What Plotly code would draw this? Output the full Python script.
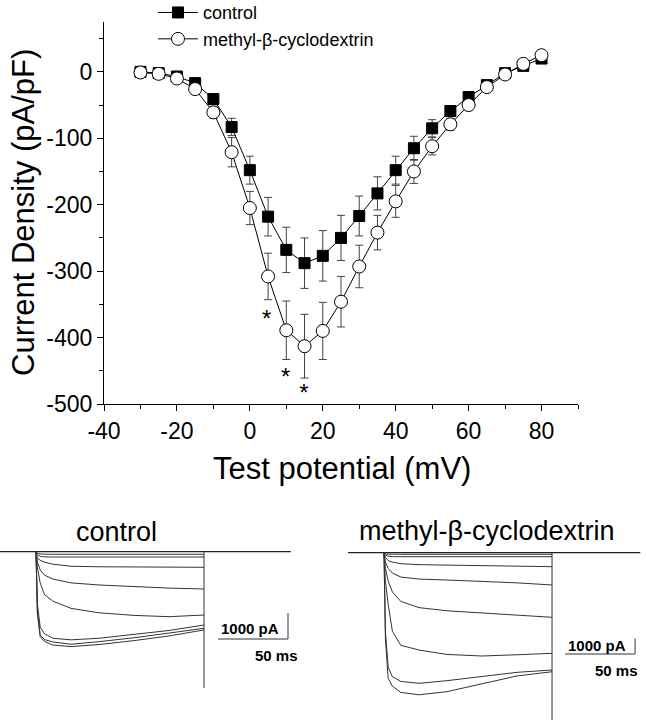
import plotly.graph_objects as go

W, H = 646, 720
FONT = "Liberation Sans, Arial, sans-serif"

# ---- I-V curve data (pA/pF) ----
voltage = list(range(-30, 81, 5))
control_mean = [0, -2, -7, -17, -41, -83, -148, -218, -268, -288, -277, -250,
                -217, -183, -148, -115, -85, -59, -38, -20, -2, 9, 20]
control_sem = [3, 3, 4, 5, 7, 13, 21, 29, 34, 38, 38, 34,
               30, 25, 21, 18, 13, 8, 6, 5, 4, 4, 4]
mbcd_mean = [-1, -3, -10, -26, -61, -121, -205, -308, -389, -413, -390, -346,
             -293, -242, -195, -150, -112, -79, -50, -23, -4, 12, 25]
mbcd_sem = [4, 4, 4, 6, 9, 22, 25, 35, 44, 48, 43, 38,
            32, 26, 24, 18, 13, 9, 6, 5, 4, 4, 5]

# tick labels (hyphen minus, as in the original)
x_ticks = [-40, -20, 0, 20, 40, 60, 80]
y_ticks = [-500, -400, -300, -200, -100, 0]

# significance marks
star_x = [4.6, 9.8, 14.8]
star_y = [-375, -463, -486]

# ---- current traces (ms, pA) ----
step_t = [0, 1, 3, 6, 12, 25, 45, 70, 95, 120]
control_traces = [
    [0, -60, -90, -100, -100, -100, -100, -100, -100, -100],
    [0, -120, -180, -200, -205, -205, -205, -205, -205, -205],
    [0, -250, -330, -400, -480, -560, -580, -590, -595, -600],
    [0, -400, -700, -900, -1050, -1200, -1280, -1345, -1400, -1435],
    [0, -600, -1200, -1650, -1900, -2180, -2350, -2450, -2500, -2435],
    [0, -2000, -2900, -3150, -3330, -3390, -3330, -3180, -3030, -2820],
    [0, -2300, -3200, -3380, -3470, -3560, -3460, -3310, -3130, -2945],
    [0, -2400, -3270, -3450, -3590, -3650, -3570, -3420, -3240, -3010],
]
mbcd_traces = [
    [0, -60, -90, -100, -100, -100, -100, -100, -100, -100],
    [0, -150, -220, -250, -255, -255, -255, -255, -255, -255],
    [0, -300, -500, -600, -700, -760, -790, -830, -860, -890],
    [0, -600, -1000, -1300, -1550, -1680, -1740, -1820, -1920, -2055],
    [0, -1000, -1800, -2500, -3100, -3500, -3700, -3850, -3980, -4115],
    [0, -1800, -3300, -5000, -5900, -6200, -6480, -6580, -6500, -6410],
    [0, -5000, -7300, -7900, -8200, -8320, -8150, -7900, -7620, -7470],
    [0, -5500, -8000, -8500, -8900, -9050, -8850, -8350, -7850, -7580],
]
control_tail = -5240
mbcd_tail = -10656
bar_ms, bar_pA = 50, 1000

fig = go.Figure()

# I-V curves
fig.add_trace(go.Scatter(
    x=voltage, y=control_mean, name="control", mode="lines+markers",
    error_y=dict(type="data", array=control_sem, color="#444", thickness=1, width=4),
    line=dict(color="black", width=1),
    marker=dict(symbol="square", size=11, color="black", line=dict(color="black", width=1))))
fig.add_trace(go.Scatter(
    x=voltage, y=mbcd_mean, name="methyl-β-cyclodextrin", mode="lines+markers",
    error_y=dict(type="data", array=mbcd_sem, color="#444", thickness=1, width=4),
    line=dict(color="black", width=1),
    marker=dict(symbol="circle", size=13, color="white", line=dict(color="black", width=1))))
fig.add_trace(go.Scatter(
    x=star_x, y=star_y, mode="text", text=["*"] * len(star_x), showlegend=False,
    textfont=dict(family=FONT, size=24, color="black"), hoverinfo="skip"))

# raw current panels
def add_panel(traces, tail, xa, ya, t_start, t_end, bar_x, bar_y):
    fig.add_trace(go.Scatter(x=[t_start, t_end], y=[0, 0], mode="lines",
                             line=dict(color="#222", width=1.2), showlegend=False,
                             xaxis=xa, yaxis=ya))
    for tr in traces:
        fig.add_trace(go.Scatter(x=step_t, y=tr, mode="lines",
                                 line=dict(color="#333", width=1), showlegend=False,
                                 xaxis=xa, yaxis=ya))
    fig.add_trace(go.Scatter(x=[step_t[-1], step_t[-1]], y=[0, tail], mode="lines",
                             line=dict(color="#333", width=1), showlegend=False,
                             xaxis=xa, yaxis=ya))
    fig.add_trace(go.Scatter(x=[bar_x, bar_x + bar_ms, bar_x + bar_ms],
                             y=[bar_y, bar_y, bar_y + bar_pA], mode="lines",
                             line=dict(color="#333", width=1), showlegend=False,
                             xaxis=xa, yaxis=ya))

add_panel(control_traces, control_tail, "x2", "y2", -25.7, 182, 130, -3358)
add_panel(mbcd_traces, mbcd_tail, "x3", "y3", -25.7, 183, 129.3, -6452)

axis_font = dict(family=FONT, size=23, color="black")
common = dict(showline=True, linecolor="black", linewidth=1, showgrid=False,
              zeroline=False, ticks="outside", ticklen=6, tickcolor="black",
              tickfont=axis_font, automargin=False)
hidden = dict(visible=False, showgrid=False, zeroline=False)

fig.update_layout(
    width=W, height=H, margin=dict(l=0, r=0, t=0, b=0, autoexpand=False),
    paper_bgcolor="white", plot_bgcolor="white",
    font=dict(family=FONT, color="black"),
    xaxis=dict(domain=[104 / W, 578 / W], range=[-40, 90], anchor="y",
               tickvals=x_ticks, ticktext=[str(v) for v in x_ticks],
               minor=dict(dtick=10, tick0=-40, ticks="outside", ticklen=4, tickcolor="black"),
               **common),
    yaxis=dict(domain=[1 - 404 / H, 1 - 22 / H], range=[-500, 75], anchor="x",
               tickvals=y_ticks, ticktext=[str(v) for v in y_ticks],
               minor=dict(dtick=50, tick0=-500, ticks="outside", ticklen=4, tickcolor="black"),
               **common),
    xaxis2=dict(domain=[0, 300 / W], range=[-25.71, 188.57], anchor="y2", **hidden),
    yaxis2=dict(domain=[0, 220 / H], range=[-6473, 1988], anchor="x2", **hidden),
    xaxis3=dict(domain=[320 / W, 1], range=[-45.7, 187.1], anchor="y3", **hidden),
    yaxis3=dict(domain=[0, 220 / H], range=[-10656, 3357], anchor="x3", **hidden),
    legend=dict(x=153 / W, y=1.008, xanchor="left", yanchor="top",
                font=dict(family=FONT, size=18, color="black"),
                bgcolor="rgba(0,0,0,0)", tracegroupgap=0, itemwidth=40),
    showlegend=True,
)

def note(text, x, y, size, xref="paper", yref="paper", angle=0, bold=False):
    return dict(text=f"<b>{text}</b>" if bold else text, x=x, y=y, xref=xref, yref=yref,
                xanchor="center", yanchor="middle", textangle=angle,
                showarrow=False, font=dict(family=FONT, size=size, color="black"))

annotations = [
    note("Current Density (pA/pF)", 23 / W, 1 - 213 / H, 31, angle=-90),
    note("Test potential (mV)", 342 / W, 1 - 468 / H, 31),
    note("control", 116 / W, 1 - 532 / H, 27),
    note("methyl-β-cyclodextrin", 487 / W, 1 - 531 / H, 27),
    note("1000 pA", 152.9, -2935, 15, "x2", "y2", bold=True),
    note("50 ms", 172, -3973, 15, "x2", "y2", bold=True),
    note("1000 pA", 151.9, -5924, 15, "x3", "y3", bold=True),
    note("50 ms", 166.2, -7471, 15, "x3", "y3", bold=True),
]
fig.update_layout(annotations=annotations)

# drop the default page margin so the figure sits at the window's top-left corner
fig.write_html("out.html", config={"displayModeBar": False},
               post_script="document.body.style.margin='0';")
